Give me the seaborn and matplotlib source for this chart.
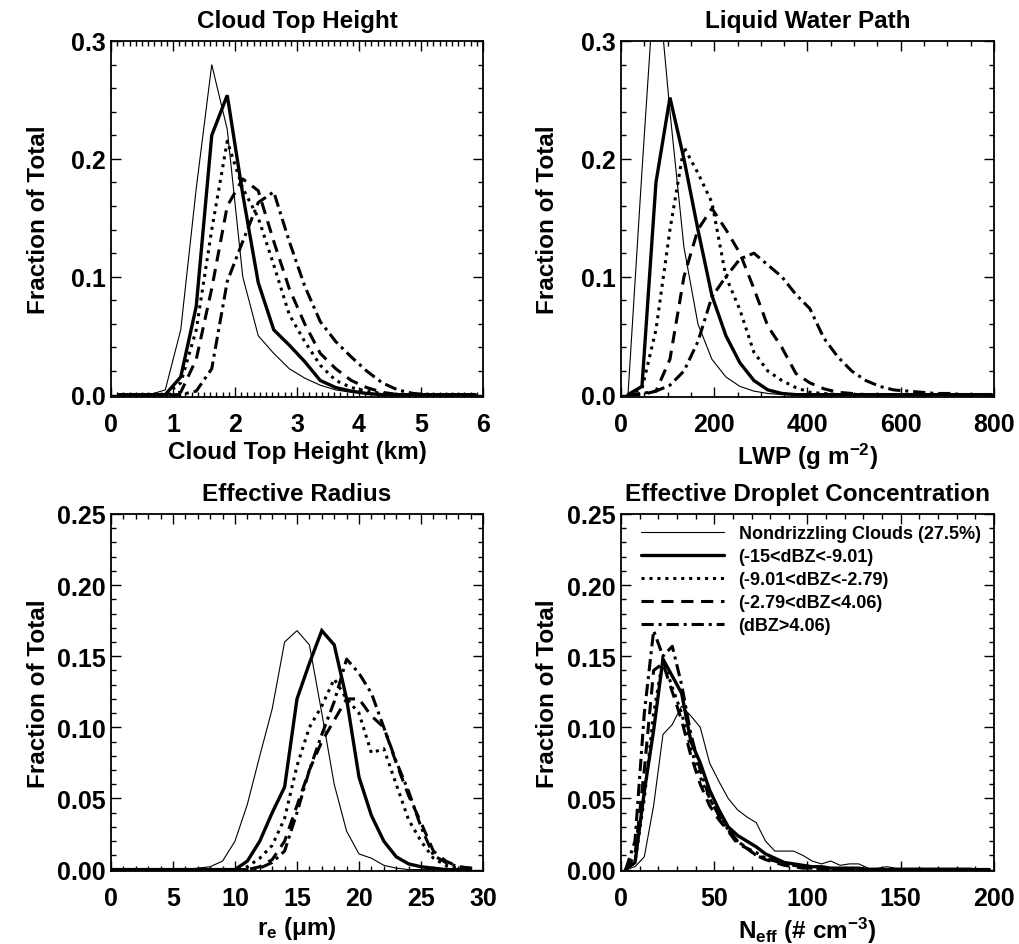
import numpy as np
import pandas as pd
import matplotlib
matplotlib.use("Agg")
import matplotlib.pyplot as plt
import seaborn as sns
from matplotlib.ticker import MultipleLocator, FormatStrFormatter

# ---------------- data ----------------
series_names = ["Nondrizzling Clouds (27.5%)", "(-15<dBZ<-9.01)", "(-9.01<dBZ<-2.79)",
                "(-2.79<dBZ<4.06)", "(dBZ>4.06)"]

# Cloud top height (km), bin centres
cth_x = [0.125, 0.375, 0.625, 0.875, 1.125, 1.375, 1.625, 1.875, 2.125, 2.375, 2.625, 2.875,
         3.125, 3.375, 3.625, 3.875, 4.125, 4.375, 4.625, 4.875, 5.125, 5.375, 5.625, 5.875]
cth_nd = [0, 0, 0, 0.004, 0.055, 0.175, 0.280, 0.225, 0.100, 0.050, 0.035, 0.022,
          0.014, 0.008, 0.004, 0.002, 0.001, 0, 0, 0, 0, 0, 0, 0]
cth_d1 = [0, 0, 0, 0.0, 0.015, 0.075, 0.220, 0.254, 0.170, 0.095, 0.055, 0.042,
          0.028, 0.012, 0.006, 0.003, 0.001, 0, 0, 0, 0, 0, 0, 0]
cth_d2 = [0, 0, 0, 0, 0.010, 0.055, 0.140, 0.215, 0.175, 0.150, 0.110, 0.068,
          0.045, 0.025, 0.012, 0.006, 0.003, 0.001, 0, 0, 0, 0, 0, 0]
cth_d3 = [0, 0, 0, 0, 0.002, 0.030, 0.090, 0.160, 0.183, 0.173, 0.130, 0.090,
          0.060, 0.035, 0.022, 0.012, 0.006, 0.002, 0, 0, 0, 0, 0, 0]
cth_d4 = [0, 0, 0, 0, 0, 0.003, 0.022, 0.096, 0.130, 0.163, 0.172, 0.130,
          0.092, 0.062, 0.045, 0.032, 0.020, 0.010, 0.004, 0.001, 0, 0, 0, 0]

# Liquid water path (g m-2), bin centres
lwp_x = [15, 45, 75, 105, 135, 165, 195, 225, 255, 285, 315, 345, 375, 405, 435, 465, 495,
         525, 555, 585, 615, 645, 675, 705, 735, 765, 795]
lwp_nd = [0.0, 0.19, 0.37, 0.24, 0.125, 0.060, 0.030, 0.015, 0.007, 0.003, 0.001, 0, 0, 0,
          0, 0, 0, 0, 0, 0, 0, 0, 0, 0, 0, 0, 0]
lwp_d1 = [0.0, 0.007, 0.180, 0.252, 0.200, 0.140, 0.084, 0.050, 0.027, 0.012, 0.004, 0.001,
          0, 0, 0, 0, 0, 0, 0, 0, 0, 0, 0, 0, 0, 0, 0]
lwp_d2 = [0.0, 0.005, 0.055, 0.140, 0.210, 0.188, 0.163, 0.100, 0.072, 0.036, 0.020, 0.012,
          0.006, 0.002, 0.001, 0, 0, 0, 0, 0, 0, 0, 0, 0, 0, 0, 0]
lwp_d3 = [0.0, 0.0, 0.003, 0.030, 0.100, 0.140, 0.158, 0.140, 0.120, 0.090, 0.058, 0.040,
          0.018, 0.010, 0.005, 0.002, 0.001, 0, 0, 0, 0, 0, 0, 0, 0, 0, 0]
lwp_d4 = [0.0, 0.001, 0.003, 0.008, 0.020, 0.045, 0.083, 0.100, 0.115, 0.120, 0.110, 0.100,
          0.085, 0.073, 0.048, 0.032, 0.020, 0.012, 0.007, 0.004, 0.003, 0.002, 0.001,
          0.001, 0, 0, 0]

# Effective radius (um)
re_x = list(range(0, 30))
re_nd = [0, 0, 0, 0, 0, 0, 0, 0.001, 0.002, 0.006, 0.020, 0.046, 0.080, 0.113, 0.160, 0.168,
         0.158, 0.110, 0.060, 0.027, 0.011, 0.008, 0.003, 0.001, 0, 0, 0, 0, 0, 0]
re_d1 = [0, 0, 0, 0, 0, 0, 0, 0, 0, 0, 0.0, 0.006, 0.020, 0.040, 0.058, 0.120,
         0.145, 0.168, 0.158, 0.120, 0.065, 0.038, 0.020, 0.009, 0.004, 0.002, 0.001, 0, 0, 0]
re_d2 = [0, 0, 0, 0, 0, 0, 0, 0, 0, 0, 0, 0.002, 0.008, 0.017, 0.036, 0.073,
         0.100, 0.115, 0.134, 0.120, 0.110, 0.082, 0.085, 0.060, 0.035, 0.020, 0.008, 0.003,
         0.001, 0]
re_d3 = [0, 0, 0, 0, 0, 0, 0, 0, 0, 0, 0, 0, 0.002, 0.007, 0.020, 0.045,
         0.070, 0.090, 0.105, 0.120, 0.120, 0.108, 0.100, 0.075, 0.052, 0.033, 0.013, 0.006,
         0.002, 0.001]
re_d4 = [0, 0, 0, 0, 0, 0, 0, 0, 0, 0, 0, 0, 0.001, 0.005, 0.013, 0.040,
         0.070, 0.095, 0.118, 0.148, 0.138, 0.124, 0.100, 0.076, 0.055, 0.030, 0.010, 0.005,
         0.002, 0.001]

# Effective droplet concentration (# cm-3)
neff_x = [2.5 + 5 * i for i in range(40)]
neff_nd = [0, 0.002, 0.009, 0.045, 0.095, 0.102, 0.115, 0.108, 0.100, 0.075, 0.062, 0.050,
           0.042, 0.037, 0.033, 0.020, 0.013, 0.013, 0.013, 0.010, 0.006, 0.004, 0.006, 0.003,
           0.004, 0.004, 0.001, 0.001, 0.002, 0.001, 0.001, 0.001, 0.001, 0.001, 0.001, 0.001,
           0.001, 0.001, 0.0, 0.0]
neff_d1 = [0, 0.005, 0.055, 0.098, 0.148, 0.136, 0.124, 0.090, 0.075, 0.056, 0.042, 0.030,
           0.024, 0.020, 0.016, 0.011, 0.008, 0.005, 0.004, 0.003, 0.002, 0.002, 0.001, 0.001,
           0.001, 0.001, 0, 0, 0, 0, 0, 0, 0, 0, 0, 0, 0, 0, 0, 0]
neff_d2 = [0, 0.005, 0.050, 0.110, 0.148, 0.128, 0.110, 0.085, 0.065, 0.050, 0.038, 0.028,
           0.020, 0.015, 0.012, 0.008, 0.006, 0.004, 0.003, 0.002, 0.001, 0.001, 0, 0,
           0, 0, 0, 0, 0, 0, 0, 0, 0, 0, 0, 0, 0, 0, 0, 0]
neff_d3 = [0, 0.010, 0.070, 0.140, 0.145, 0.125, 0.105, 0.080, 0.060, 0.045, 0.035, 0.027,
           0.018, 0.015, 0.010, 0.007, 0.005, 0.003, 0.002, 0.001, 0.001, 0, 0, 0,
           0, 0, 0, 0, 0, 0, 0, 0, 0, 0, 0, 0, 0, 0, 0, 0]
neff_d4 = [0, 0.020, 0.110, 0.168, 0.150, 0.157, 0.130, 0.095, 0.070, 0.050, 0.038, 0.028,
           0.020, 0.015, 0.010, 0.008, 0.006, 0.004, 0.003, 0.002, 0.001, 0.001, 0, 0,
           0, 0, 0, 0, 0, 0, 0, 0, 0, 0, 0, 0, 0, 0, 0, 0]

panel_titles = ["Cloud Top Height", "Liquid Water Path", "Effective Radius",
                "Effective Droplet Concentration"]
panel_xlabels = ["Cloud Top Height (km)", r"LWP (g m$^{-2}$)", r"r$_\mathrm{e}$ ($\mathrm{\mu}$m)",
                 r"N$_\mathrm{eff}$ (# cm$^{-3}$)"]

# ---------------- style ----------------
sns.set_theme(style="ticks")
plt.rcParams["font.family"] = ["Liberation Sans", "DejaVu Sans"]
plt.rcParams["font.weight"] = "bold"
plt.rcParams["text.color"] = "black"
plt.rcParams["axes.labelcolor"] = "black"
plt.rcParams["xtick.color"] = "black"
plt.rcParams["ytick.color"] = "black"
plt.rcParams["mathtext.fontset"] = "custom"
plt.rcParams["mathtext.rm"] = "Liberation Sans:bold"
plt.rcParams["mathtext.it"] = "Liberation Sans:bold"
plt.rcParams["mathtext.bf"] = "Liberation Sans:bold"
plt.rcParams["mathtext.default"] = "rm"

styles = [dict(lw=0.8, ls="-"),
          dict(lw=2.4, ls="-"),
          dict(lw=2.2, ls=(0, (1, 1.6))),
          dict(lw=2.2, ls=(0, (4, 2.5))),
          dict(lw=2.2, ls=(0, (4, 1.6, 1, 1.6)))]

fig = plt.figure(figsize=(10.2, 9.45), dpi=100)
W, H = 1020, 945
def rect(l, r, t, b):
    return [l / W, 1 - b / H, (r - l) / W, (b - t) / H]

axes = [fig.add_axes(rect(111, 483, 42, 398)),
        fig.add_axes(rect(621, 994, 42, 398)),
        fig.add_axes(rect(111, 483, 515, 872)),
        fig.add_axes(rect(621, 994, 515, 872))]

datasets = [(cth_x, [cth_nd, cth_d1, cth_d2, cth_d3, cth_d4]),
            (lwp_x, [lwp_nd, lwp_d1, lwp_d2, lwp_d3, lwp_d4]),
            (re_x, [re_nd, re_d1, re_d2, re_d3, re_d4]),
            (neff_x, [neff_nd, neff_d1, neff_d2, neff_d3, neff_d4])]

xlims = [(0, 6), (0, 800), (0, 30), (0, 200)]
xmaj = [1, 200, 5, 50]
xmin = [0.1, 50, 1, 10]
ylims = [(-0.002, 0.3), (-0.002, 0.3), (-0.001, 0.25), (-0.001, 0.25)]
ymaj = [0.1, 0.1, 0.05, 0.05]
ymin = [0.02, 0.02, 0.01, 0.01]
yfmt = ["%.1f", "%.1f", "%.2f", "%.2f"]

FS = 17.5
for i, ax in enumerate(axes):
    xs, ys_list = datasets[i]
    for j, ys in enumerate(ys_list):
        df = pd.DataFrame({"x": xs, "y": ys})
        sns.lineplot(data=df, x="x", y="y", ax=ax, color="black",
                     label=series_names[j] if i == 3 else None,
                     linewidth=styles[j]["lw"], linestyle=styles[j]["ls"],
                     solid_joinstyle="miter", dash_capstyle="butt")
    ax.set_xlim(*xlims[i])
    ax.set_ylim(*ylims[i])
    ax.xaxis.set_major_locator(MultipleLocator(xmaj[i]))
    ax.xaxis.set_minor_locator(MultipleLocator(xmin[i]))
    ax.yaxis.set_major_locator(MultipleLocator(ymaj[i]))
    ax.yaxis.set_minor_locator(MultipleLocator(ymin[i]))
    ax.yaxis.set_major_formatter(FormatStrFormatter(yfmt[i]))
    ax.tick_params(which="both", direction="in", top=True, right=True,
                   color="black", labelcolor="black", width=1.0)
    ax.tick_params(which="major", length=7)
    ax.tick_params(which="minor", length=3.5)
    ax.tick_params(axis="x", which="major", pad=11, labelsize=18)
    ax.tick_params(axis="y", which="major", pad=4, labelsize=18)
    for lab in ax.get_xticklabels() + ax.get_yticklabels():
        lab.set_fontweight("bold")
    for sp in ax.spines.values():
        sp.set_linewidth(1.3)
        sp.set_color("black")
        sp.set_visible(True)
    ax.set_title(panel_titles[i], fontsize=FS, fontweight="bold", pad=10, color="black")
    ax.set_xlabel(panel_xlabels[i], fontsize=FS, fontweight="bold", labelpad=3, color="black")
    ax.set_ylabel("Fraction of Total", fontsize=FS, fontweight="bold", color="black")
    ax.yaxis.set_label_coords(-0.165, 0.5)
    if i != 3 and ax.get_legend() is not None:
        ax.get_legend().remove()

leg = axes[3].legend(loc="upper left", bbox_to_anchor=(0.02, 1.005), frameon=False,
                     fontsize=13, handlelength=4.6, handletextpad=0.8,
                     labelspacing=0.34, borderaxespad=0.3)
for t in leg.get_texts():
    t.set_fontweight("bold")
    t.set_color("black")

fig.savefig("out.png", dpi=100)
